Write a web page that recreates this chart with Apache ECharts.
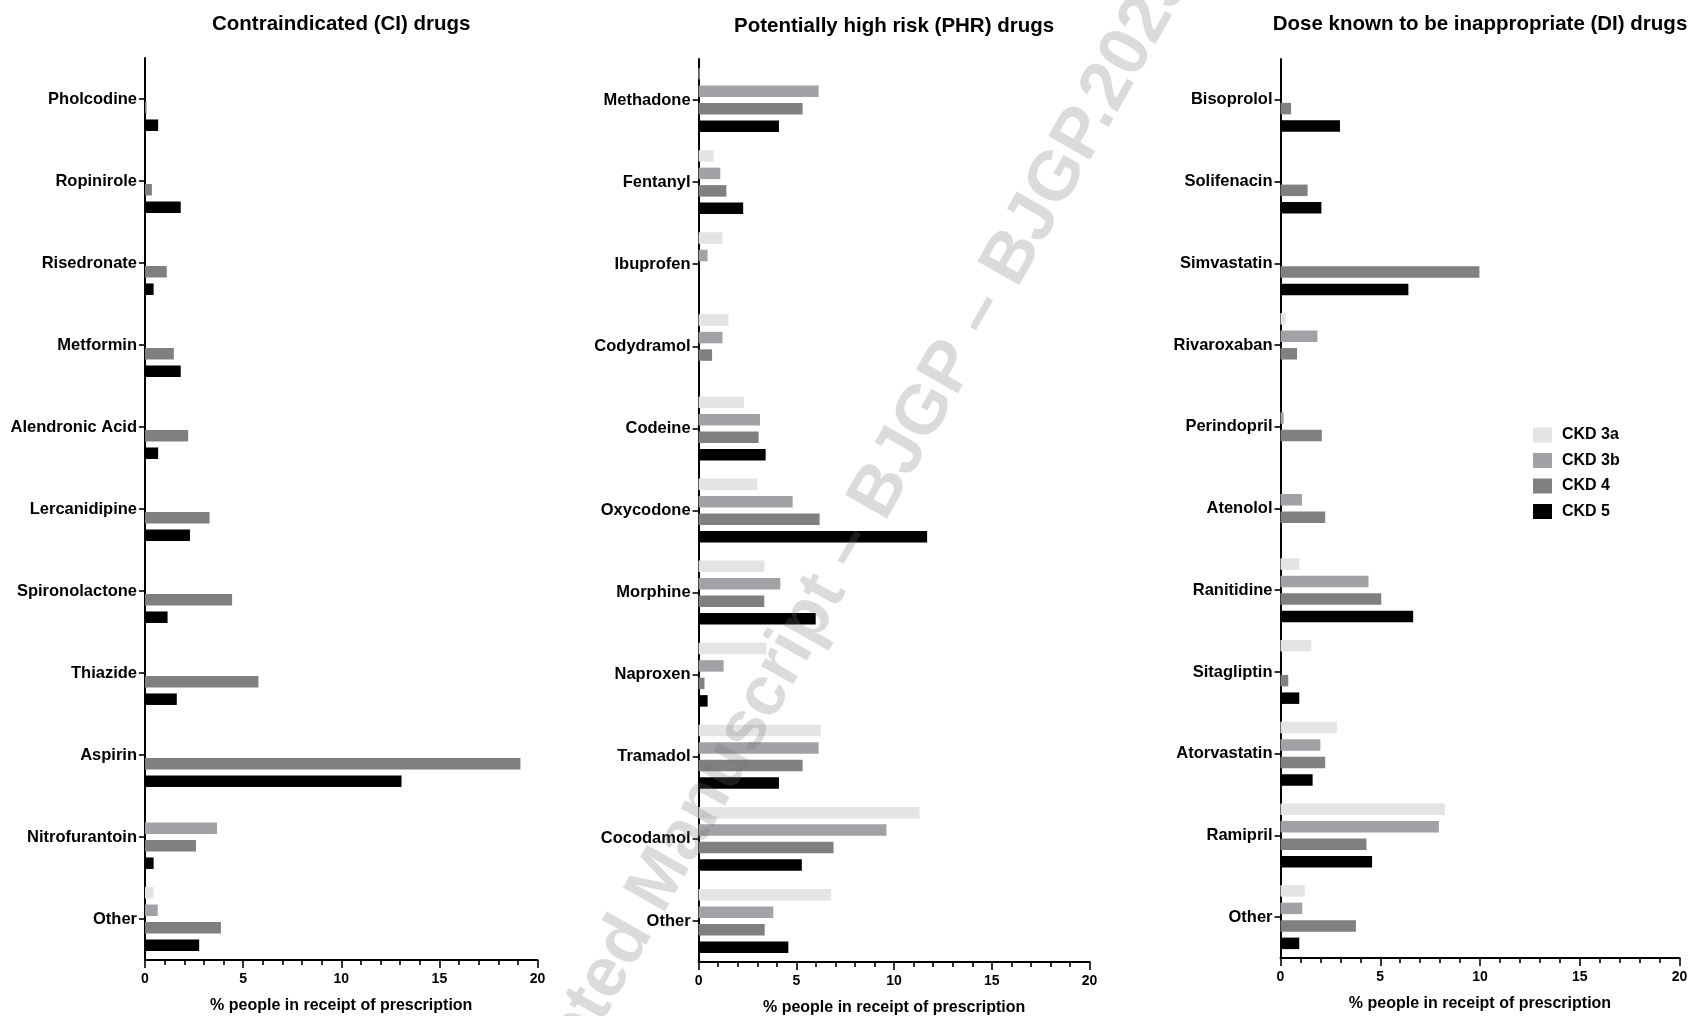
<!DOCTYPE html>
<html>
<head>
<meta charset="utf-8">
<script src="https://cdn.jsdelivr.net/npm/echarts@6/dist/echarts.min.js"></script>
<style>
html,body{margin:0;padding:0;background:#ffffff;}
#chart{width:1692px;height:1016px;}
</style>
</head>
<body>
<div id="chart"></div>
<script>
// ---------- data ----------
const seriesNames = ['CKD 3a', 'CKD 3b', 'CKD 4', 'CKD 5'];

const panelTitles = [
  'Contraindicated (CI) drugs',
  'Potentially high risk (PHR) drugs',
  'Dose known to be inappropriate (DI) drugs'
];
const xAxisTitle = '% people in receipt of prescription';
const xMin = 0, xMax = 20, xStep = 5;

const ciCategories = ['Pholcodine', 'Ropinirole', 'Risedronate', 'Metformin', 'Alendronic Acid',
  'Lercanidipine', 'Spironolactone', 'Thiazide', 'Aspirin', 'Nitrofurantoin', 'Other'];
const ciCKD3a = [null, null, null, null, null, null, null, null, null, null, 0.44];
const ciCKD3b = [null, null, null, null, null, null, null, null, null, 3.67, 0.65];
const ciCKD4  = [0.08, 0.35, 1.11, 1.47, 2.20, 3.29, 4.44, 5.78, 19.13, 2.60, 3.87];
const ciCKD5  = [0.67, 1.82, 0.44, 1.82, 0.67, 2.29, 1.15, 1.62, 13.07, 0.44, 2.76];

const phrCategories = ['Methadone', 'Fentanyl', 'Ibuprofen', 'Codydramol', 'Codeine',
  'Oxycodone', 'Morphine', 'Naproxen', 'Tramadol', 'Cocodamol', 'Other'];
const phrCKD3a = [0.05, 0.77, 1.22, 1.53, 2.32, 3.00, 3.37, 3.47, 6.25, 11.30, 6.78];
const phrCKD3b = [6.14, 1.11, 0.46, 1.22, 3.14, 4.81, 4.18, 1.28, 6.14, 9.61, 3.82];
const phrCKD4  = [5.32, 1.42, null, 0.69, 3.07, 6.19, 3.36, 0.30, 5.32, 6.90, 3.38];
const phrCKD5  = [4.11, 2.28, null, null, 3.43, 11.69, 5.99, 0.46, 4.11, 5.28, 4.59];

const diCategories = ['Bisoprolol', 'Solifenacin', 'Simvastatin', 'Rivaroxaban', 'Perindopril',
  'Atenolol', 'Ranitidine', 'Sitagliptin', 'Atorvastatin', 'Ramipril', 'Other'];
const diCKD3a = [null, null, null, 0.26, null, null, 0.94, 1.55, 2.82, 8.24, 1.22];
const diCKD3b = [null, null, null, 1.85, 0.16, 1.08, 4.41, null, 2.00, 7.94, 1.09];
const diCKD4  = [0.53, 1.36, 9.97, 0.83, 2.07, 2.24, 5.05, 0.39, 2.24, 4.31, 3.78];
const diCKD5  = [2.98, 2.05, 6.41, null, null, null, 6.65, 0.94, 1.61, 4.59, 0.94];

const watermarkText = 'Accepted Manuscript \u2013 BJGP \u2013 BJGP.2023';

// ---------- styling / layout ----------
const FONT = '"Liberation Sans", Arial, Helvetica, sans-serif';
const colors = ['#e4e4e4', '#a2a2a6', '#808080', '#000000'];
const grids = [
  {left: 145,   top: 58, width: 392.5, height: 902},
  {left: 698.6, top: 59, width: 391,   height: 903},
  {left: 1280.5, top: 59, width: 399,  height: 899}
];
const titleY = [24, 26, 24];

const panels = [
  {cats: ciCategories,  data: [ciCKD3a, ciCKD3b, ciCKD4, ciCKD5]},
  {cats: phrCategories, data: [phrCKD3a, phrCKD3b, phrCKD4, phrCKD5]},
  {cats: diCategories,  data: [diCKD3a, diCKD3b, diCKD4, diCKD5]}
];

const xAxes = [], yAxes = [], series = [], graphics = [];
panels.forEach((p, i) => {
  xAxes.push({
    type: 'value', gridIndex: i, min: xMin, max: xMax, interval: xStep,
    name: xAxisTitle, nameLocation: 'middle', nameGap: 46,
    nameTextStyle: {fontFamily: FONT, fontSize: 16, fontWeight: 'bold', color: '#000', verticalAlign: 'middle'},
    axisLine: {show: true, lineStyle: {color: '#000', width: 2}},
    axisTick: {show: true, length: 8, lineStyle: {color: '#000', width: 1.6}},
    minorTick: {show: true, splitNumber: 5, length: 5, lineStyle: {color: '#000', width: 1.6}},
    splitLine: {show: false},
    axisLabel: {fontFamily: FONT, fontSize: 14, fontWeight: 'bold', color: '#000', margin: 12}
  });
  yAxes.push({
    type: 'category', gridIndex: i, data: p.cats, inverse: true,
    axisLine: {show: true, onZero: false, lineStyle: {color: '#000', width: 2}},
    axisTick: {show: true, alignWithLabel: true, length: 6, lineStyle: {color: '#000', width: 1.6}},
    axisLabel: {fontFamily: FONT, fontSize: 16.5, fontWeight: 'bold', color: '#000', margin: 8},
    splitLine: {show: false}
  });
  p.data.forEach((d, j) => {
    series.push({
      type: 'bar', name: seriesNames[j], xAxisIndex: i, yAxisIndex: i, data: d,
      barWidth: 11.5, barGap: '52%',
      itemStyle: {color: colors[j]},
      emphasis: {disabled: true}
    });
  });
  const g = grids[i];
  graphics.push({
    type: 'text', x: g.left + g.width / 2, y: titleY[i],
    style: {text: panelTitles[i], fontFamily: FONT, fontSize: 20.5, fontWeight: 'bold', fill: '#000',
      align: 'center', verticalAlign: 'middle'}
  });
});

// watermark (drawn on top, semi-transparent)
const wmAngle = 60.5 * Math.PI / 180;
graphics.push({
  type: 'text', x: 481, y: 1197, rotation: wmAngle, z: 100, silent: true,
  style: {text: watermarkText, fontFamily: FONT, fontSize: 70, fontWeight: 'bold',
    fill: 'rgba(110,110,110,0.25)', align: 'left', verticalAlign: 'middle'}
});

const chart = echarts.init(document.getElementById('chart'), null, {renderer: 'canvas'});
chart.setOption({
  animation: false,
  backgroundColor: '#ffffff',
  grid: grids.map(g => Object.assign({containLabel: false, outerBoundsMode: 'none'}, g)),
  xAxis: xAxes,
  yAxis: yAxes,
  series: series,
  legend: {
    data: seriesNames, orient: 'vertical', left: 1533, top: 427, padding: 0,
    itemWidth: 19, itemHeight: 15, itemGap: 9.5, icon: 'rect',
    textStyle: {fontFamily: FONT, fontSize: 16, fontWeight: 'bold', color: '#000', padding: [0, 0, 0, 5]}
  },
  graphic: graphics
});
</script>
</body>
</html>
